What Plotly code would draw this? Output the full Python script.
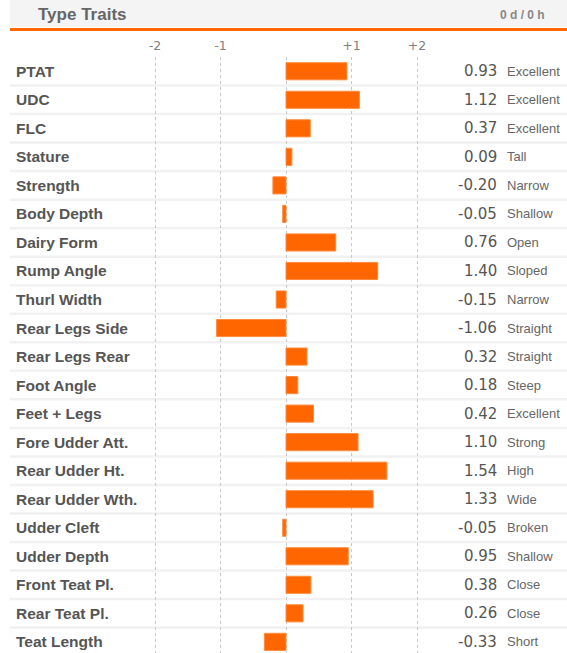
import plotly.graph_objects as go

traits = ["PTAT", "UDC", "FLC", "Stature", "Strength", "Body Depth", "Dairy Form",
          "Rump Angle", "Thurl Width", "Rear Legs Side", "Rear Legs Rear", "Foot Angle",
          "Feet + Legs", "Fore Udder Att.", "Rear Udder Ht.", "Rear Udder Wth.",
          "Udder Cleft", "Udder Depth", "Front Teat Pl.", "Rear Teat Pl.", "Teat Length"]
values = [0.93, 1.12, 0.37, 0.09, -0.20, -0.05, 0.76, 1.40, -0.15, -1.06, 0.32, 0.18,
          0.42, 1.10, 1.54, 1.33, -0.05, 0.95, 0.38, 0.26, -0.33]
descriptors = ["Excellent", "Excellent", "Excellent", "Tall", "Narrow", "Shallow", "Open",
               "Sloped", "Narrow", "Straight", "Straight", "Steep", "Excellent", "Strong",
               "High", "Wide", "Broken", "Shallow", "Close", "Close", "Short"]
tick_vals = [-2, -1, 0, 1, 2]
tick_text = ["-2", "-1", "", "+1", "+2"]
title_text = "Type Traits"
status_text = "0 d / 0 h"

W, H = 567, 653
MT = 57
PH = H - MT
ORANGE = "#ff6600"

def px_x(px):
    return px / W

def px_y(py):
    return 1 + (MT - py) / PH

rows = list(range(len(traits)))

fig = go.Figure()
fig.add_trace(go.Bar(
    x=values, y=rows, orientation="h", width=0.6,
    marker=dict(color=ORANGE, line=dict(color="#ff8a3d", width=1)),
    hoverinfo="skip",
))

shapes = []
shapes.append(dict(type="rect", xref="paper", yref="paper",
                   x0=px_x(10), x1=1, y0=px_y(27), y1=px_y(0),
                   fillcolor="#f4f4f4", line=dict(width=0), layer="below"))
shapes.append(dict(type="line", xref="paper", yref="paper",
                   x0=px_x(10), x1=1, y0=px_y(29.5), y1=px_y(29.5),
                   line=dict(color=ORANGE, width=3)))
for i in range(len(traits) - 1):
    shapes.append(dict(type="line", xref="paper", yref="y",
                       x0=px_x(10), x1=1, y0=i + 0.5, y1=i + 0.5,
                       line=dict(color="#f1f1f1", width=2.5), layer="below"))

annotations = []
annotations.append(dict(text=f"<b>{title_text}</b>", xref="paper", yref="paper",
                        x=px_x(36), y=px_y(14), xanchor="left", yanchor="middle",
                        showarrow=False,
                        font=dict(family="Liberation Sans, Arial", size=17, color="#666666")))
annotations.append(dict(text=f"<b>{status_text}</b>", xref="paper", yref="paper",
                        x=px_x(547), y=px_y(15), xanchor="right", yanchor="middle",
                        showarrow=False,
                        font=dict(family="Liberation Sans, Arial", size=12, color="#888888")))
for i, (t, v, d) in enumerate(zip(traits, values, descriptors)):
    annotations.append(dict(text=t, xref="paper", yref="y", x=px_x(14), y=i,
                            xanchor="left", yanchor="middle", showarrow=False,
                            font=dict(family="Liberation Sans, Arial", size=15.5,
                                      color="#555555", weight=600)))
    annotations.append(dict(text=f"{v:.2f}", xref="paper", yref="y", x=px_x(498.5), y=i,
                            xanchor="right", yanchor="middle", showarrow=False,
                            font=dict(family="DejaVu Sans", size=15, color="#555555")))
    annotations.append(dict(text=d, xref="paper", yref="y", x=px_x(505), y=i,
                            xanchor="left", yanchor="middle", showarrow=False,
                            font=dict(family="Liberation Sans, Arial", size=13, color="#666666")))

ppu = 65.5
fig.update_layout(
    width=W, height=H,
    margin=dict(l=0, r=0, t=MT, b=0),
    paper_bgcolor="white", plot_bgcolor="white",
    showlegend=False,
    shapes=shapes, annotations=annotations,
    xaxis=dict(range=[-286 / ppu, (W - 286) / ppu], side="top",
               tickvals=tick_vals, ticktext=tick_text,
               showgrid=True, gridcolor="#c8c8c8", griddash="dot", gridwidth=1,
               zeroline=False, showline=False, ticks="", ticklabelstandoff=4,
               tickfont=dict(family="DejaVu Sans", size=12.5, color="#808080"),
               fixedrange=True),
    yaxis=dict(range=[-0.5 + PH / 28.53, -0.5], showgrid=False, zeroline=False,
               showticklabels=False, ticks="", fixedrange=True),
)

fig.write_html("out.html", config={"displayModeBar": False},
               post_script="document.body.style.margin='0px';document.body.style.overflow='hidden';")
